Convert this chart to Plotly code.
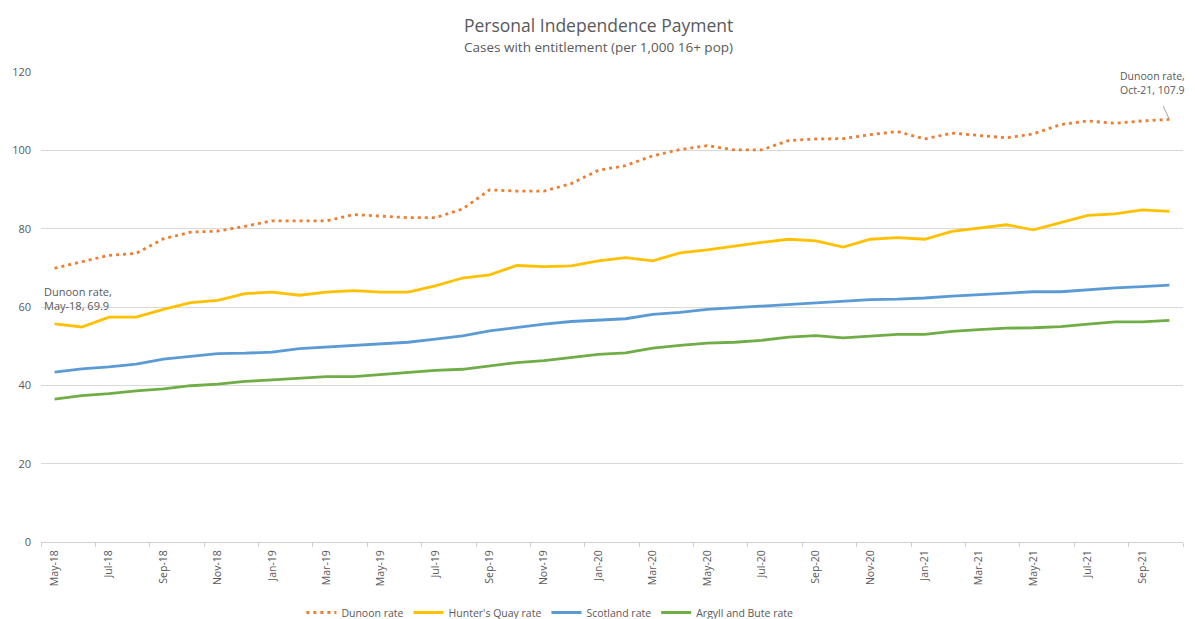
import plotly.graph_objects as go

months = ["May-18","Jun-18","Jul-18","Aug-18","Sep-18","Oct-18","Nov-18","Dec-18",
          "Jan-19","Feb-19","Mar-19","Apr-19","May-19","Jun-19","Jul-19","Aug-19",
          "Sep-19","Oct-19","Nov-19","Dec-19","Jan-20","Feb-20","Mar-20","Apr-20",
          "May-20","Jun-20","Jul-20","Aug-20","Sep-20","Oct-20","Nov-20","Dec-20",
          "Jan-21","Feb-21","Mar-21","Apr-21","May-21","Jun-21","Jul-21","Aug-21",
          "Sep-21","Oct-21"]

dunoon = [69.9, 71.5, 73.2, 73.7, 77.4, 79.1, 79.4, 80.6, 82.0, 82.0, 82.0, 83.6,
          83.2, 82.8, 82.8, 85.0, 89.9, 89.6, 89.6, 91.5, 94.9, 96.1, 98.6, 100.2,
          101.2, 100.1, 100.1, 102.5, 102.9, 103.0, 104.0, 104.8, 102.9, 104.4, 103.8, 103.2,
          104.2, 106.6, 107.5, 106.9, 107.5, 107.9]

hunters_quay = [55.7, 54.9, 57.4, 57.4, 59.4, 61.1, 61.7, 63.4, 63.8, 63.0, 63.8, 64.2,
                63.8, 63.8, 65.4, 67.4, 68.2, 70.6, 70.3, 70.5, 71.8, 72.6, 71.8, 73.8,
                74.6, 75.6, 76.5, 77.3, 76.9, 75.3, 77.3, 77.7, 77.3, 79.3, 80.1, 81.0,
                79.7, 81.5, 83.4, 83.8, 84.8, 84.4]

scotland = [43.4, 44.2, 44.7, 45.4, 46.7, 47.4, 48.1, 48.2, 48.5, 49.4, 49.8, 50.2,
            50.5, 51.0, 51.8, 52.6, 53.9, 54.8, 55.6, 56.3, 56.7, 57.0, 58.1, 58.6,
            59.4, 59.8, 60.3, 60.6, 61.0, 61.4, 61.9, 62.0, 62.3, 62.8, 63.2, 63.6,
            63.9, 63.9, 64.4, 64.9, 65.2, 65.6]

argyll_bute = [36.5, 37.4, 37.9, 38.6, 39.1, 39.9, 40.3, 41.0, 41.4, 41.8, 42.2, 42.2,
               42.7, 43.2, 43.8, 44.1, 44.9, 45.8, 46.3, 47.1, 47.9, 48.3, 49.5, 50.2,
               50.8, 51.0, 51.5, 52.3, 52.7, 52.1, 52.6, 53.0, 53.0, 53.8, 54.2, 54.6,
               54.7, 55.0, 55.6, 56.2, 56.2, 56.6]

series = [
    ("Dunoon rate", dunoon, "#ED7D31", "3px,4px"),
    ("Hunter's Quay rate", hunters_quay, "#FFC000", "solid"),
    ("Scotland rate", scotland, "#5B9BD5", "solid"),
    ("Argyll and Bute rate", argyll_bute, "#70AD47", "solid"),
]

FONT = "Open Sans, sans-serif"
GREY = "#595959"

fig = go.Figure()
for name, vals, color, dash in series:
    fig.add_trace(go.Scatter(x=months, y=vals, name=name, mode="lines",
                             line=dict(color=color, width=2.8, dash=dash)))

# The page body adds an 8px offset, so the figure is sized to fill the rest of the window.
fig.update_layout(
    width=1187, height=611,
    margin=dict(l=33, r=12, t=64, b=77, autoexpand=False),
    paper_bgcolor="white", plot_bgcolor="white",
    font=dict(family=FONT, color=GREY, size=10),
    showlegend=True,
    legend=dict(orientation="h", x=0.228, xanchor="left", y=-0.1808, yanchor="bottom",
                font=dict(size=10.5, color=GREY), itemwidth=30, tracegroupgap=0),
    xaxis=dict(type="category", categoryorder="array", categoryarray=months,
               tickmode="linear", tick0=0, dtick=2, tickangle=-90, automargin=False,
               tickson="boundaries", ticks="outside", ticklen=4, tickcolor="#d0d0d0",
               showline=True, linecolor="#d0d0d0", linewidth=1, showgrid=False,
               ticklabelstandoff=3,
               tickfont=dict(size=10.5, color=GREY), range=[-0.5, 41.5]),
    yaxis=dict(range=[0, 120], dtick=20, showgrid=True, gridcolor="#d9d9d9",
               gridwidth=1, zeroline=False, showline=False, ticklabelstandoff=9,
               automargin=False, tickfont=dict(size=11, color=GREY), ticks=""),
    annotations=[
        dict(text="Personal Independence Payment", xref="paper", yref="paper",
             x=0.5, y=1, yshift=47, xshift=-14, xanchor="center", yanchor="middle",
             showarrow=False, font=dict(size=17.5, color=GREY)),
        dict(text="Cases with entitlement (per 1,000 16+ pop)", xref="paper", yref="paper",
             x=0.5, y=1, yshift=25, xshift=-14, xanchor="center", yanchor="middle",
             showarrow=False, font=dict(size=13.5, color=GREY)),
        dict(text="Dunoon rate,<br>May-18, 69.9", x=months[0], y=dunoon[0],
             xanchor="left", yanchor="middle", xshift=-13, yshift=-30, align="left",
             showarrow=False, font=dict(size=11, color=GREY)),
        dict(text="Dunoon rate,<br>Oct-21, 107.9", x=months[-1], y=dunoon[-1],
             ax=-17, ay=-36, xanchor="center", yanchor="middle", align="left",
             showarrow=True, arrowhead=0, arrowwidth=1, arrowcolor="#a6a6a6",
             startstandoff=8, font=dict(size=10.5, color=GREY)),
    ],
)

fig.write_html("out.html")
